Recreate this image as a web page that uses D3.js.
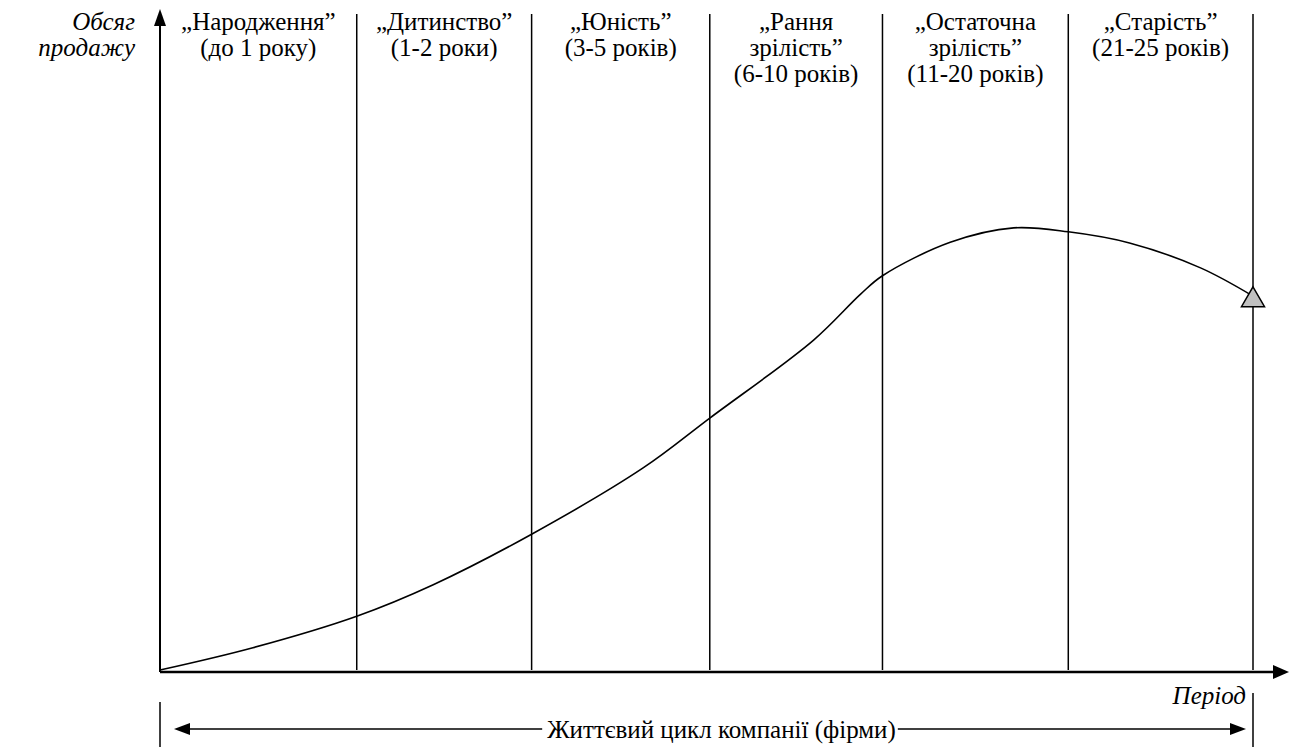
<!DOCTYPE html>
<html>
<head>
<meta charset="utf-8">
<script src="https://cdn.jsdelivr.net/npm/d3@7"></script>
<style>
  body { margin: 0; background: #fff; }
</style>
</head>
<body>
<div id="wrapper"></div>
<script>
// stage boundaries, % of the company life cycle
const stageBounds = [0, 18.0, 34.0, 50.3, 66.1, 83.1, 100]
const stageLabels = [
    ["„Народження”", "(до 1 року)"],
    ["„Дитинство”", "(1-2 роки)"],
    ["„Юність”", "(3-5 років)"],
    ["„Рання", "зрілість”", "(6-10 років)"],
    ["„Остаточна", "зрілість”", "(11-20 років)"],
    ["„Старість”", "(21-25 років)"],
]

// sales curve (x: % of period, y: % of max axis height)
const periodValues = [0, 8.5, 18.0, 25.0, 34.0, 44.2, 50.3, 59.8, 64.1, 66.1, 72.3, 78.1, 83.1, 88.7, 95.2, 100]
const salesValues = [0, 3.4, 8.2, 13.0, 20.7, 30.8, 38.4, 50.3, 57.3, 60.1, 65.2, 67.4, 66.8, 65.1, 61.3, 57.0]

const yAxisTitle = ["Обсяг", "продажу"]
const xAxisTitle = "Період"
const cycleTitle = "Життєвий цикл компанії (фірми)"

const fontFamily = "'Liberation Serif', 'Times New Roman', Tinos, 'DejaVu Serif', serif"

function drawChart() {
    const dataset = periodValues.map((p, i) => ({ period: p, sales: salesValues[i] }))
    const xAccessor = d => d.period
    const yAccessor = d => d.sales

    // dimensions
    let dimensions = {
        width: 1293,
        height: 747,
        margin: { top: 14, right: 40, bottom: 77, left: 160 },
    }
    dimensions.boundedWidth = dimensions.width - dimensions.margin.left - dimensions.margin.right
    dimensions.boundedHeight = dimensions.height - dimensions.margin.top - dimensions.margin.bottom

    const lineStep = 26

    const svg = d3.select("#wrapper")
        .append("svg")
        .attr("width", dimensions.width)
        .attr("height", dimensions.height)
        .attr("font-family", fontFamily)
        .attr("font-size", 25)

    const bounds = svg.append("g")
        .attr("transform", `translate(${dimensions.margin.left},${dimensions.margin.top})`)

    // scales
    const xScale = d3.scaleLinear()
        .domain([0, 100])
        .range([0, dimensions.boundedWidth])

    const yScale = d3.scaleLinear()
        .domain([0, 100])
        .range([dimensions.boundedHeight, 0])

    const H = dimensions.boundedHeight

    // stage separators
    bounds.selectAll(".stage-line")
        .data(stageBounds.slice(1))
        .enter().append("line")
        .attr("class", "stage-line")
        .attr("x1", d => xScale(d))
        .attr("x2", d => xScale(d))
        .attr("y1", 0)
        .attr("y2", H)
        .attr("stroke", "#000")
        .attr("stroke-width", 1.5)

    // stage names
    const stageText = bounds.selectAll(".stage-name")
        .data(stageLabels)
        .enter().append("text")
        .attr("class", "stage-name")
        .attr("text-anchor", "middle")
    stageText.each(function (lines, i) {
        const cx = (xScale(stageBounds[i]) + xScale(stageBounds[i + 1])) / 2
        d3.select(this).selectAll("tspan")
            .data(lines)
            .enter().append("tspan")
            .attr("x", cx)
            .attr("y", (d, j) => 16 + j * lineStep)
            .text(d => d)
    })

    // curve
    const lineGenerator = d3.line()
        .x(d => xScale(xAccessor(d)))
        .y(d => yScale(yAccessor(d)))
        .curve(d3.curveCatmullRom.alpha(0.5))

    bounds.append("path")
        .attr("d", lineGenerator(dataset))
        .attr("fill", "none")
        .attr("stroke", "#000")
        .attr("stroke-width", 1.6)

    // end marker
    const last = dataset[dataset.length - 1]
    bounds.append("path")
        .attr("d", d3.symbol(d3.symbolTriangle, 230)())
        .attr("transform", `translate(${xScale(xAccessor(last))},${yScale(yAccessor(last)) + 4})`)
        .attr("fill", "#c0c0c0")
        .attr("stroke", "#000")
        .attr("stroke-width", 1.5)

    // axes
    const axisY = H + 2
    bounds.append("line")
        .attr("x1", 0).attr("x2", 0)
        .attr("y1", axisY).attr("y2", 4)
        .attr("stroke", "#000").attr("stroke-width", 2)
    bounds.append("path")
        .attr("d", `M-6,12 L0,-5 L6,12 Z`)
        .attr("fill", "#000")

    bounds.append("line")
        .attr("x1", 0).attr("x2", dimensions.boundedWidth + 20)
        .attr("y1", axisY).attr("y2", axisY)
        .attr("stroke", "#000").attr("stroke-width", 2.5)
    const xEnd = dimensions.boundedWidth + 36
    bounds.append("path")
        .attr("d", `M${xEnd - 16},${axisY - 7} L${xEnd},${axisY} L${xEnd - 16},${axisY + 7} Z`)
        .attr("fill", "#000")

    // axis titles
    bounds.append("text")
        .attr("font-style", "italic")
        .attr("text-anchor", "end")
        .selectAll("tspan")
        .data(yAxisTitle)
        .enter().append("tspan")
        .attr("x", -25)
        .attr("y", (d, i) => 16 + i * lineStep)
        .text(d => d)

    bounds.append("text")
        .attr("font-style", "italic")
        .attr("text-anchor", "end")
        .attr("x", xScale(100) - 7)
        .attr("y", axisY + 32)
        .text(xAxisTitle)

    // life cycle span
    const spanY = axisY + 57
    ;[0, 100].forEach(v => {
        bounds.append("line")
            .attr("x1", xScale(v)).attr("x2", xScale(v))
            .attr("y1", v === 0 ? axisY + 30 : axisY + 21)
            .attr("y2", dimensions.height)
            .attr("stroke", "#000").attr("stroke-width", 1.5)
    })

    const spanLabel = bounds.append("text")
        .attr("text-anchor", "middle")
        .attr("x", (xScale(0) + xScale(100)) / 2 + 15)
        .attr("y", spanY + 9)
        .text(cycleTitle)
    const box = spanLabel.node().getBBox()

    const leftTip = xScale(0) + 14
    const rightTip = xScale(100) - 7
    bounds.append("line")
        .attr("x1", leftTip + 10).attr("x2", box.x - 5)
        .attr("y1", spanY).attr("y2", spanY)
        .attr("stroke", "#000").attr("stroke-width", 1.5)
    bounds.append("path")
        .attr("d", `M${leftTip},${spanY} L${leftTip + 16},${spanY - 6} L${leftTip + 16},${spanY + 6} Z`)
        .attr("fill", "#000")
    bounds.append("line")
        .attr("x1", box.x + box.width + 2).attr("x2", rightTip - 10)
        .attr("y1", spanY).attr("y2", spanY)
        .attr("stroke", "#000").attr("stroke-width", 1.5)
    bounds.append("path")
        .attr("d", `M${rightTip},${spanY} L${rightTip - 16},${spanY - 6} L${rightTip - 16},${spanY + 6} Z`)
        .attr("fill", "#000")
}
drawChart()
</script>
</body>
</html>
